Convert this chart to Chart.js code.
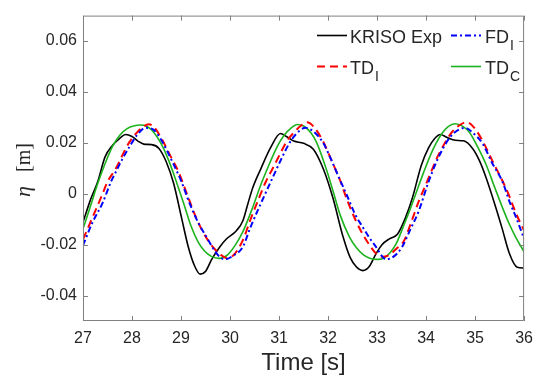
<!DOCTYPE html>
<html><head><meta charset="utf-8">
<script src="https://cdn.jsdelivr.net/npm/chart.js@4/dist/chart.umd.min.js"></script>
<style>html,body{margin:0;padding:0;background:#fff}canvas{display:block}</style>
</head><body>
<canvas id="c" width="541" height="378"></canvas>
<script>
// ---- data ----
const xTicks = [27, 28, 29, 30, 31, 32, 33, 34, 35, 36];
const yTicks = [-0.04, -0.02, 0, 0.02, 0.04, 0.06];
const xLabel = 'Time [s]';
const yLabelSym = 'η';
const yLabelUnit = '[m]';
const legendMain = ['KRISO Exp', 'FD', 'TD', 'TD'];
const legendSub = ['', 'I', 'I', 'C'];

const expT = [27.0, 27.15, 27.3, 27.45, 27.6, 27.75, 27.87, 28.0, 28.12, 28.24, 28.4, 28.55, 28.7, 28.85, 29.01, 29.15, 29.28, 29.39, 29.5, 29.62, 29.79, 29.93, 30.13, 30.26, 30.36, 30.46, 30.63, 30.83, 31.03, 31.15, 31.3, 31.5, 31.7, 31.9, 32.1, 32.3, 32.45, 32.58, 32.71, 32.84, 32.98, 33.1, 33.25, 33.42, 33.58, 33.72, 33.9, 34.05, 34.18, 34.29, 34.42, 34.6, 34.76, 34.96, 35.1, 35.23, 35.4, 35.55, 35.7, 35.86, 36.0];
const expY = [-0.0112, -0.0025, 0.0047, 0.0145, 0.0190, 0.0218, 0.0233, 0.0225, 0.0207, 0.0195, 0.0193, 0.0178, 0.0125, 0.0040, -0.0094, -0.0210, -0.0285, -0.0316, -0.0305, -0.0260, -0.0209, -0.0177, -0.0145, -0.0107, -0.0042, 0.0022, 0.0099, 0.0182, 0.0237, 0.0225, 0.0207, 0.0198, 0.0175, 0.0099, -0.0017, -0.0165, -0.0250, -0.0288, -0.0302, -0.0286, -0.0235, -0.0200, -0.0177, -0.0158, -0.0094, -0.0017, 0.0110, 0.0180, 0.0218, 0.0233, 0.0222, 0.0210, 0.0208, 0.0175, 0.0125, 0.0060, -0.0040, -0.0135, -0.0235, -0.0289, -0.0292];

const fdT = [27.0, 27.2, 27.4, 27.57, 27.67, 27.8, 27.95, 28.1, 28.28, 28.45, 28.61, 28.8, 29.01, 29.18, 29.35, 29.52, 29.68, 29.8, 29.9, 30.05, 30.26, 30.42, 30.59, 30.83, 31.03, 31.2, 31.35, 31.54, 31.7, 31.9, 32.05, 32.23, 32.38, 32.55, 32.71, 32.85, 32.98, 33.08, 33.18, 33.35, 33.51, 33.68, 33.85, 34.05, 34.2, 34.35, 34.5, 34.65, 34.79, 34.95, 35.16, 35.35, 35.56, 35.7, 35.83, 36.0];
const fdY = [-0.0203, -0.0110, -0.0036, 0.0047, 0.0086, 0.0135, 0.0185, 0.0230, 0.0259, 0.0250, 0.0207, 0.0135, 0.0047, -0.0040, -0.0113, -0.0170, -0.0222, -0.0250, -0.0258, -0.0245, -0.0209, -0.0130, -0.0055, 0.0047, 0.0130, 0.0195, 0.0235, 0.0259, 0.0245, 0.0200, 0.0140, 0.0060, -0.0004, -0.0080, -0.0132, -0.0175, -0.0209, -0.0240, -0.0258, -0.0245, -0.0209, -0.0140, -0.0068, 0.0047, 0.0120, 0.0180, 0.0225, 0.0250, 0.0259, 0.0240, 0.0195, 0.0120, 0.0047, -0.0030, -0.0090, -0.0177];

const tdiT = [27.0, 27.2, 27.4, 27.5, 27.67, 27.8, 27.94, 28.1, 28.22, 28.34, 28.45, 28.61, 28.78, 28.95, 29.1, 29.28, 29.42, 29.55, 29.7, 29.82, 29.95, 30.1, 30.26, 30.42, 30.59, 30.73, 30.9, 31.03, 31.17, 31.3, 31.45, 31.57, 31.7, 31.9, 32.05, 32.23, 32.4, 32.57, 32.71, 32.84, 32.98, 33.11, 33.25, 33.4, 33.55, 33.7, 33.85, 33.99, 34.09, 34.22, 34.35, 34.5, 34.65, 34.83, 34.98, 35.16, 35.35, 35.56, 35.7, 35.83, 36.0];
const tdiY = [-0.0180, -0.0090, 0.0000, 0.0047, 0.0099, 0.0150, 0.0201, 0.0240, 0.0262, 0.0273, 0.0262, 0.0214, 0.0150, 0.0086, 0.0010, -0.0081, -0.0140, -0.0183, -0.0220, -0.0241, -0.0254, -0.0235, -0.0183, -0.0100, -0.0017, 0.0047, 0.0110, 0.0160, 0.0210, 0.0240, 0.0268, 0.0281, 0.0265, 0.0205, 0.0140, 0.0060, -0.0030, -0.0107, -0.0160, -0.0200, -0.0235, -0.0248, -0.0240, -0.0215, -0.0185, -0.0110, -0.0030, 0.0034, 0.0080, 0.0140, 0.0188, 0.0235, 0.0265, 0.0281, 0.0260, 0.0205, 0.0130, 0.0050, -0.0010, -0.0075, -0.0145];

const tdcT = [27.0, 27.15, 27.3, 27.45, 27.6, 27.75, 27.9, 28.05, 28.17, 28.3, 28.45, 28.6, 28.75, 28.9, 29.05, 29.2, 29.35, 29.48, 29.62, 29.78, 29.95, 30.1, 30.26, 30.46, 30.63, 30.8, 30.97, 31.1, 31.25, 31.37, 31.5, 31.65, 31.77, 31.95, 32.1, 32.25, 32.44, 32.58, 32.71, 32.85, 33.02, 33.15, 33.38, 33.55, 33.7, 33.82, 33.95, 34.09, 34.2, 34.32, 34.45, 34.59, 34.75, 34.89, 35.05, 35.23, 35.4, 35.56, 35.7, 35.83, 36.0];
const tdcY = [-0.0138, -0.0050, 0.0040, 0.0118, 0.0185, 0.0230, 0.0256, 0.0267, 0.0270, 0.0265, 0.0240, 0.0195, 0.0130, 0.0050, -0.0035, -0.0125, -0.0190, -0.0225, -0.0246, -0.0254, -0.0240, -0.0204, -0.0150, -0.0055, 0.0036, 0.0116, 0.0188, 0.0229, 0.0259, 0.0272, 0.0266, 0.0240, 0.0200, 0.0105, 0.0012, -0.0085, -0.0171, -0.0212, -0.0238, -0.0253, -0.0258, -0.0252, -0.0200, -0.0122, -0.0048, 0.0016, 0.0084, 0.0152, 0.0197, 0.0236, 0.0264, 0.0275, 0.0265, 0.0240, 0.0185, 0.0112, 0.0025, -0.0055, -0.0120, -0.0171, -0.0228];

// ---- chart ----
const pts = (t, v) => t.map((x, i) => ({ x: x, y: v[i] }));
const TXT = '#262626';
const AX = '#808080';

const framePlugin = {
  id: 'frame',
  afterDatasetsDraw(chart) {
    const { ctx, chartArea: a, scales } = chart;
    const xs = scales.x, ys = scales.y;
    ctx.save();
    ctx.strokeStyle = AX;
    ctx.lineWidth = 1;
    ctx.beginPath();
    ctx.rect(a.left + 0.5, a.top + 0.5, a.right - a.left - 1, a.bottom - a.top - 1);
    xTicks.forEach(v => {
      const p = Math.round(xs.getPixelForValue(v)) + 0.5;
      ctx.moveTo(p, a.bottom); ctx.lineTo(p, a.bottom - 5);
      ctx.moveTo(p, a.top); ctx.lineTo(p, a.top + 5);
    });
    yTicks.forEach(v => {
      const p = Math.round(ys.getPixelForValue(v)) + 0.5;
      ctx.moveTo(a.left, p); ctx.lineTo(a.left + 5, p);
      ctx.moveTo(a.right, p); ctx.lineTo(a.right - 5, p);
    });
    ctx.stroke();

    // axis titles
    ctx.fillStyle = TXT;
    ctx.font = '24px "Liberation Sans", Arial, sans-serif';
    ctx.textAlign = 'center';
    ctx.textBaseline = 'alphabetic';
    ctx.fillText(xLabel, (a.left + a.right) / 2, 370);

    ctx.save();
    ctx.translate(30, 197);
    ctx.rotate(-Math.PI / 2);
    ctx.textAlign = 'left';
    ctx.font = 'italic 22px "Liberation Serif", "DejaVu Serif", serif';
    ctx.fillText(yLabelSym, 0, 0);
    ctx.font = '20px "Liberation Serif", "DejaVu Serif", serif';
    ctx.fillText(yLabelUnit, 25, 0);
    ctx.restore();

    // legend
    const ds = chart.data.datasets;
    const slots = [
      { lx: 317, tx: 350, y: 35.5 },
      { lx: 451, tx: 485, y: 35.5 },
      { lx: 317, tx: 350, y: 66.5 },
      { lx: 451, tx: 485, y: 66.5 }
    ];
    slots.forEach((s, i) => {
      const d = ds[i];
      ctx.save();
      ctx.strokeStyle = d.borderColor;
      ctx.lineWidth = d.borderWidth;
      ctx.setLineDash(d.borderDash || []);
      ctx.beginPath();
      ctx.moveTo(s.lx, s.y); ctx.lineTo(s.lx + 30, s.y);
      ctx.stroke();
      ctx.restore();
      ctx.fillStyle = TXT;
      ctx.textAlign = 'left';
      ctx.font = '18px "Liberation Sans", Arial, sans-serif';
      ctx.fillText(legendMain[i], s.tx, s.y + 7.5);
      if (legendSub[i]) {
        const w = ctx.measureText(legendMain[i]).width;
        ctx.font = '14px "Liberation Sans", Arial, sans-serif';
        ctx.fillText(legendSub[i], s.tx + w + 1, s.y + 14);
      }
    });
    ctx.restore();
  }
};

new Chart(document.getElementById('c'), {
  type: 'line',
  data: {
    datasets: [
      { label: 'KRISO Exp', data: pts(expT, expY), borderColor: '#000000', borderWidth: 1.6, order: 3 },
      { label: 'FD_I', data: pts(fdT, fdY), borderColor: '#0000ff', borderWidth: 2, borderDash: [6, 3, 2, 3], order: 0 },
      { label: 'TD_I', data: pts(tdiT, tdiY), borderColor: '#ff0000', borderWidth: 2, borderDash: [8, 5], order: 1 },
      { label: 'TD_C', data: pts(tdcT, tdcY), borderColor: '#1db31d', borderWidth: 1.6, order: 2 }
    ]
  },
  options: {
    responsive: false,
    animation: false,
    events: [],
    layout: { padding: { top: 11, right: 11, left: 0, bottom: 0 } },
    elements: { point: { radius: 0 }, line: { cubicInterpolationMode: 'monotone', fill: false } },
    plugins: { legend: { display: false }, tooltip: { enabled: false }, title: { display: false } },
    scales: {
      x: {
        type: 'linear', min: 27, max: 36,
        afterFit: s => { s.height = 57; },
        afterBuildTicks: s => { s.ticks = xTicks.map(v => ({ value: v })); },
        grid: { display: false, drawTicks: false },
        border: { display: false },
        ticks: { padding: 8, color: TXT, font: { family: '"Liberation Sans", Arial, sans-serif', size: 16 }, maxRotation: 0, callback: v => String(v) }
      },
      y: {
        type: 'linear', min: -0.05, max: 0.07,
        afterFit: s => { s.width = 83; },
        afterBuildTicks: s => { s.ticks = yTicks.map(v => ({ value: v })); },
        grid: { display: false, drawTicks: false },
        border: { display: false },
        ticks: { padding: 6, color: TXT, font: { family: '"Liberation Sans", Arial, sans-serif', size: 16 }, callback: v => (v === 0 ? '0' : (Math.round(v * 100) / 100).toFixed(2)) }
      }
    }
  },
  plugins: [framePlugin]
});
</script>
</body></html>
